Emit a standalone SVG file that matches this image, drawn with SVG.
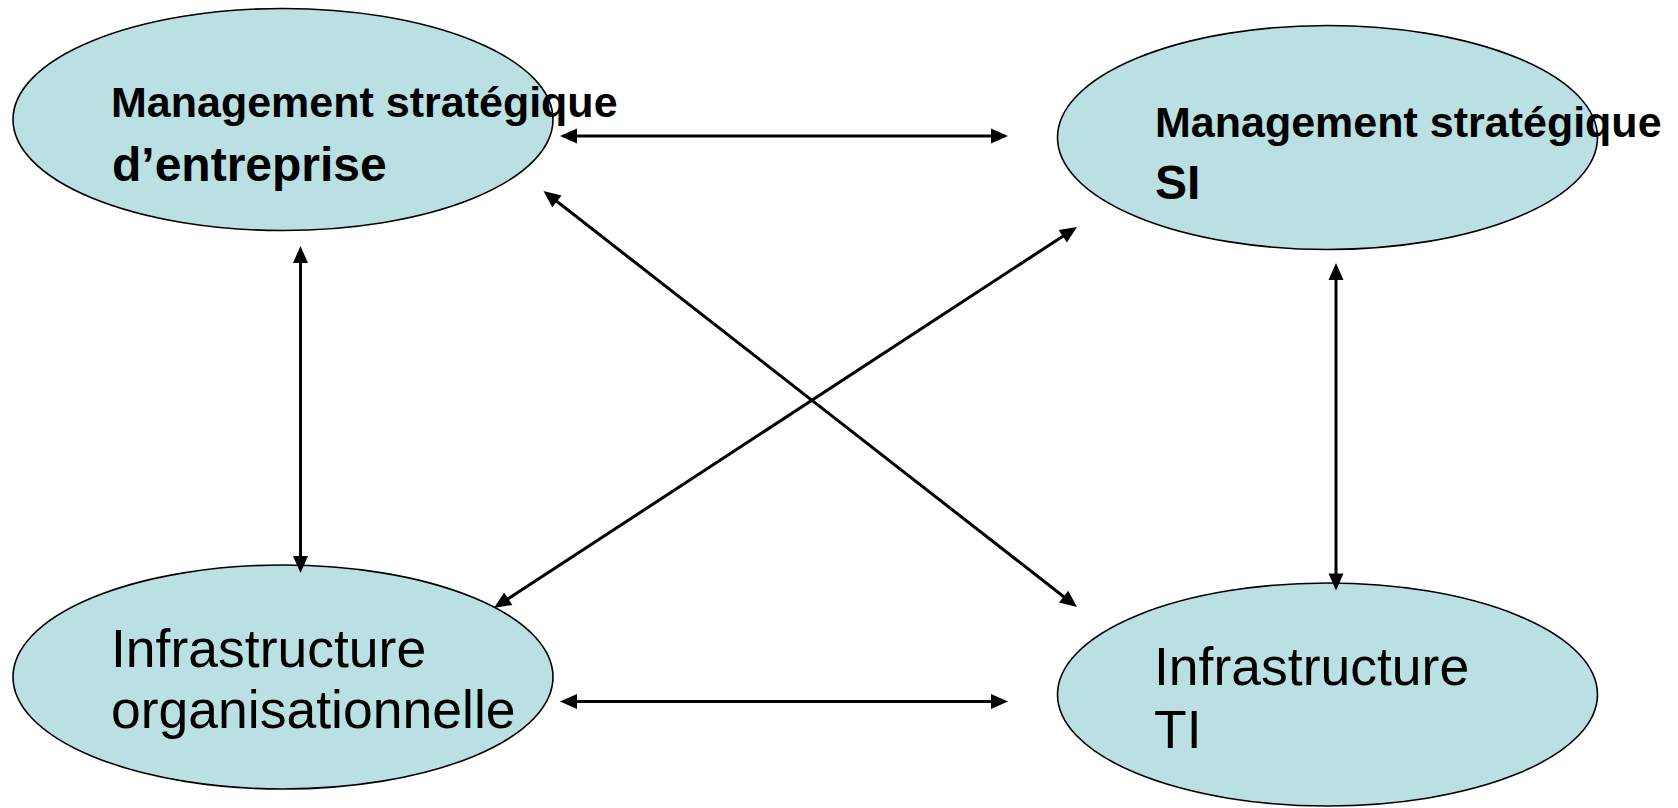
<svg xmlns="http://www.w3.org/2000/svg" width="1678" height="808" viewBox="0 0 1678 808">
  <style>
    .node ellipse { fill: #BBE0E3; stroke: #000; stroke-width: 1.6; }
    .t { font-family: "Liberation Sans", Arial, sans-serif; fill: #000; }
    .b { font-weight: bold; }
    .link { stroke: #000; stroke-width: 3; fill: none; marker-start: url(#head); marker-end: url(#head); }
  </style>
  <defs>
    <marker id="head" markerUnits="userSpaceOnUse" markerWidth="18" markerHeight="18" refX="0" refY="0" viewBox="0 -9 18 18" orient="auto-start-reverse" overflow="visible">
      <path d="M-1,-7.5 L16,0 L-1,7.5 Z" fill="#000" stroke="none"/>
    </marker>
  </defs>
  <rect width="1678" height="808" fill="#fff"/>

  <g id="node-mse" class="node">
    <ellipse cx="283" cy="119.5" rx="270" ry="111"/>
    <text class="t b" x="111" y="117" font-size="43">Management stratégique</text>
    <text class="t b" x="112" y="181" font-size="48">d’entreprise</text>
  </g>

  <g id="node-mssi" class="node">
    <ellipse cx="1327.5" cy="137.5" rx="270" ry="112"/>
    <text class="t b" x="1155" y="137" font-size="43">Management stratégique</text>
    <text class="t b" x="1155" y="199" font-size="48">SI</text>
  </g>

  <g id="node-io" class="node">
    <ellipse cx="283" cy="677" rx="270" ry="112"/>
    <text class="t" x="111" y="667" font-size="53.5">Infrastructure</text>
    <text class="t" x="111" y="728" font-size="53.5">organisationnelle</text>
  </g>

  <g id="node-iti" class="node">
    <ellipse cx="1327.5" cy="694.5" rx="270" ry="111.5"/>
    <text class="t" x="1154" y="685" font-size="53.5">Infrastructure</text>
    <text class="t" x="1154" y="748" font-size="53.5">TI</text>
  </g>

  <g id="connectors">
    <line class="link" x1="576" y1="136" x2="992" y2="136"/>
    <line class="link" x1="576" y1="701.5" x2="992" y2="701.5"/>
    <line class="link" x1="300.5" y1="262" x2="300.5" y2="557"/>
    <line class="link" x1="1336" y1="279" x2="1336" y2="574.5"/>
    <line class="link" x1="556.1" y1="200.8" x2="1064.4" y2="597.2"/>
    <line class="link" x1="507.4" y1="599.25" x2="1063.6" y2="235.75"/>
  </g>
</svg>
